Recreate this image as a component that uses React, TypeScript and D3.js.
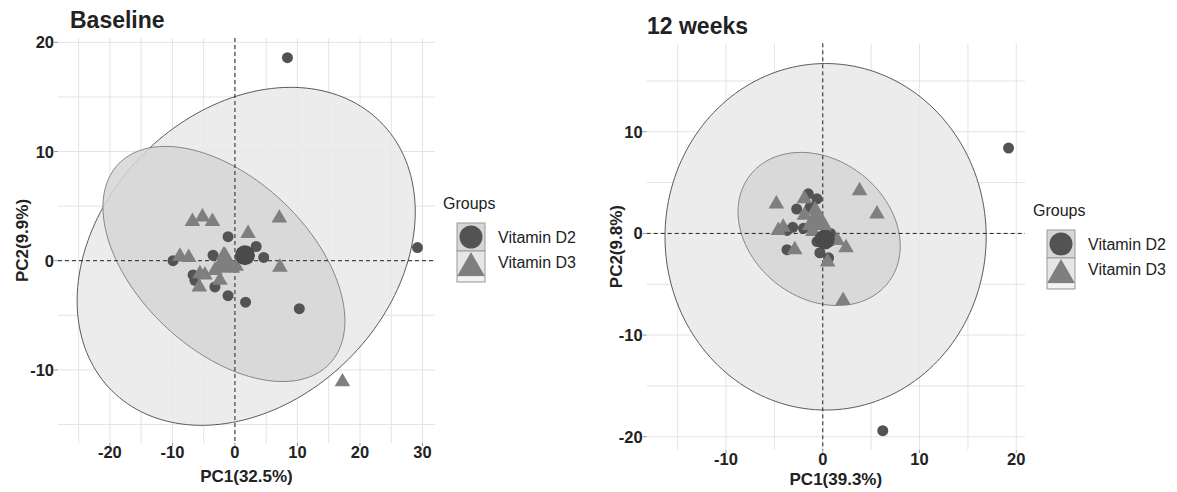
import React from 'react';
import * as d3 from 'd3';

// [PC1, PC2] scores
const baselineD2 = [
    [8.4, 18.6], [29.2, 1.2], [-1.1, 2.2], [3.4, 1.3], [4.6, 0.3], [-3.5, 0.5], [-9.9, 0.0],
    [-6.7, -1.3], [-6.4, -1.8], [-3.2, -2.4], [-1.1, -3.2], [1.7, -3.8], [10.3, -4.4]
];
const baselineD3 = [
    [-6.8, 3.6], [-5.2, 4.0], [-3.6, 3.6], [7.1, 3.9], [2.1, 2.5], [-8.8, 0.4], [-7.4, 0.3],
    [7.2, -0.6], [17.2, -11.1], [-5.6, -1.2], [-4.8, -1.3], [-5.7, -2.4], [-2.4, -1.8],
    [-3.2, -0.9], [-1.8, 0.5], [0.2, -0.5]
];
const weeksD2 = [
    [19.2, 8.4], [6.2, -19.4], [-1.5, 3.9], [-0.6, 3.4], [-2.7, 2.4], [-1.3, 2.6], [-3.1, 0.6],
    [-2.0, 0.5], [-3.7, 0.3], [-3.7, -1.6], [-0.6, -0.8], [0.8, 0], [0.9, -0.7], [-0.3, -1.9], [0.6, -2.4]
];
const weeksD3 = [
    [3.8, 4.2], [5.6, 1.9], [2.1, -6.6], [-4.8, 2.9], [-1.9, 3.4], [-0.8, 2.3], [-1.9, 1.8],
    [-4.1, 0.6], [-4.6, 0.3], [-0.6, 1.0], [-1.0, 0.2], [0.4, 0], [1.5, -0.7], [2.4, -1.4],
    [-2.9, -1.6], [0.5, -2.8]
];
// group centroids
const baselineMeans = { d2: [1.6, 0.5], d3: [-1.6, -0.3] };
const weeksMeans = { d2: [0.2, -0.6], d3: [-0.6, 1.2] };

// ellipses: centre + two axis vectors (data units)
const baselineEllipses = [
    { c: [1.8, 0.4], u: [21.5, 12.3], v: [-16.4, 9.4], fill: '#e9e9e9', stroke: '#5a5a5a' },
    { c: [-1.76, -0.3], u: [-16.8, 9.2], v: [-9.6, -5.6], fill: '#d6d6d6', stroke: '#858585' }
];
const weeksEllipses = [
    { c: [0.29, -0.33], u: [16.6, 0], v: [0, 17.04], fill: '#e9e9e9', stroke: '#5a5a5a' },
    { c: [-0.38, 0.44], u: [-8.0, 3.8], v: [-2.5, -6.5], fill: '#d6d6d6', stroke: '#858585' }
];

const baselineXTicks = [-20, -10, 0, 10, 20, 30];
const baselineYTicks = [-10, 0, 10, 20];
const baselineXGrid = [-25, -20, -15, -10, -5, 0, 5, 10, 15, 20, 25, 30];
const baselineYGrid = [-15, -10, -5, 0, 5, 10, 15, 20];
const weeksXTicks = [-10, 0, 10, 20];
const weeksYTicks = [-20, -10, 0, 10];
const weeksXGrid = [-15, -10, -5, 0, 5, 10, 15, 20];
const weeksYGrid = [-20, -15, -10, -5, 0, 5, 10, 15];

const FONT = '"Liberation Sans", Arial, sans-serif';
const D2_COLOR = '#535353';
const D3_COLOR = '#7f7f7f';

function Panel({ title, xLabel, yLabel, xDomain, yDomain, box, xTicks, yTicks, xGrid, yGrid,
    ellipses, d2, d3pts, means, titlePos, xLabelY, yLabelX }) {
    const x = d3.scaleLinear().domain(xDomain).range([box.left, box.right]);
    const y = d3.scaleLinear().domain(yDomain).range([box.bottom, box.top]);

    const line = d3.line().x(d => x(d[0])).y(d => y(d[1])).curve(d3.curveLinearClosed);
    const ellipsePath = (e) => {
        const pts = d3.range(0, 360, 2).map(deg => {
            const t = deg * Math.PI / 180;
            return [e.c[0] + e.u[0] * Math.cos(t) + e.v[0] * Math.sin(t),
                e.c[1] + e.u[1] * Math.cos(t) + e.v[1] * Math.sin(t)];
        });
        return line(pts);
    };
    const tri = d3.symbol().type(d3.symbolTriangle);

    return (
        <g>
            <text x={titlePos[0]} y={titlePos[1]} fontFamily={FONT} fontWeight="bold" fontSize={23} fill="#222">{title}</text>
            {xGrid.map(v => (
                <line key={'gx' + v} x1={x(v)} x2={x(v)} y1={box.top} y2={box.bottom} stroke="#e4e4e4" strokeWidth={1} />
            ))}
            {yGrid.map(v => (
                <line key={'gy' + v} x1={box.left} x2={box.right} y1={y(v)} y2={y(v)} stroke="#e4e4e4" strokeWidth={1} />
            ))}
            {ellipses.map((e, i) => (
                <path key={'e' + i} d={ellipsePath(e)} fill={e.fill} fillOpacity={0.85} stroke={e.stroke} strokeWidth={1} />
            ))}
            <line x1={x(0)} x2={x(0)} y1={box.top} y2={box.bottom} stroke="#222" strokeDasharray="4,3" strokeWidth={1} />
            <line x1={box.left} x2={box.right} y1={y(0)} y2={y(0)} stroke="#222" strokeDasharray="4,3" strokeWidth={1} />
            {d2.map((p, i) => (
                <circle key={'c' + i} cx={x(p[0])} cy={y(p[1])} r={5.5} fill={D2_COLOR} />
            ))}
            {d3pts.map((p, i) => (
                <path key={'t' + i} transform={`translate(${x(p[0])},${y(p[1])})`} d={tri.size(105)()} fill={D3_COLOR} />
            ))}
            <circle cx={x(means.d2[0])} cy={y(means.d2[1])} r={10} fill="#4a4a4a" />
            <path transform={`translate(${x(means.d3[0])},${y(means.d3[1])})`} d={tri.size(400)()} fill={D3_COLOR} />
            {xTicks.map(v => (
                <g key={'xt' + v}>
                    <line x1={x(v)} x2={x(v)} y1={box.bottom} y2={box.bottom + 3} stroke="#999" />
                    <text x={x(v)} y={box.bottom + 15} fontFamily={FONT} fontWeight="bold" fontSize={16.5} fill="#222" textAnchor="middle">{v}</text>
                </g>
            ))}
            {yTicks.map(v => (
                <g key={'yt' + v}>
                    <line x1={box.left - 4} x2={box.left} y1={y(v)} y2={y(v)} stroke="#999" />
                    <text x={box.left - 4} y={y(v) + 6} fontFamily={FONT} fontWeight="bold" fontSize={16.5} fill="#222" textAnchor="end">{v}</text>
                </g>
            ))}
            <text x={(box.left + box.right) / 2} y={xLabelY} fontFamily={FONT} fontWeight="bold" fontSize={17} fill="#222" textAnchor="middle">{xLabel}</text>
            <text transform={`translate(${yLabelX},${(box.top + box.bottom) / 2}) rotate(-90)`} fontFamily={FONT} fontWeight="bold" fontSize={17} fill="#222" textAnchor="middle">{yLabel}</text>
        </g>
    );
}

function Legend({ left, top }) {
    const tri = d3.symbol().type(d3.symbolTriangle);
    return (
        <g fontFamily={FONT}>
            <text x={left - 14} y={top - 14} fontSize={16} fill="#222">Groups</text>
            <rect x={left} y={top} width={28} height={28} fill="#d6d6d6" stroke="#9a9a9a" />
            <circle cx={left + 14} cy={top + 14} r={11.5} fill={D2_COLOR} />
            <rect x={left} y={top + 28} width={28} height={31} fill="#e6e6e6" stroke="#9a9a9a" />
            <rect x={left + 1} y={top + 54} width={26} height={4} fill="#f3f3f3" />
            <path transform={`translate(${left + 14},${top + 45})`} d={tri.size(330)()} fill={D3_COLOR} />
            <text x={left + 41} y={top + 20} fontSize={16} fill="#222">Vitamin D2</text>
            <text x={left + 41} y={top + 45} fontSize={16} fill="#222">Vitamin D3</text>
        </g>
    );
}

export default function App() {
    return (
        <svg width={1177} height={492} style={{ display: 'block', position: 'absolute', left: 0, top: 0, background: '#fff' }}>
            <Panel
                title="Baseline" titlePos={[70, 28]}
                xLabel="PC1(32.5%)" yLabel="PC2(9.9%)" xLabelY={482} yLabelX={28}
                xDomain={[-28.3, 32]} yDomain={[-16.7, 20.4]}
                box={{ left: 58, right: 435, top: 38, bottom: 443 }}
                xTicks={baselineXTicks} yTicks={baselineYTicks} xGrid={baselineXGrid} yGrid={baselineYGrid}
                ellipses={baselineEllipses} d2={baselineD2} d3pts={baselineD3} means={baselineMeans}
            />
            <Legend left={457} top={223} />
            <Panel
                title="12 weeks" titlePos={[647, 34]}
                xLabel="PC1(39.3%)" yLabel="PC2(9.8%)" xLabelY={485} yLabelX={622}
                xDomain={[-18.2, 20.9]} yDomain={[-21.3, 18.7]}
                box={{ left: 646.7, right: 1025, top: 43.3, bottom: 450 }}
                xTicks={weeksXTicks} yTicks={weeksYTicks} xGrid={weeksXGrid} yGrid={weeksYGrid}
                ellipses={weeksEllipses} d2={weeksD2} d3pts={weeksD3} means={weeksMeans}
            />
            <Legend left={1047} top={230} />
        </svg>
    );
}
